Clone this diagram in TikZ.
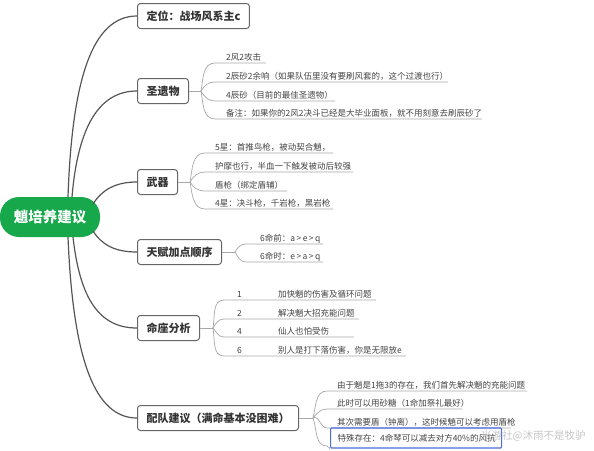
\documentclass[tikz,border=0pt]{standalone}
\usepackage{fontspec}
\setmainfont{Noto Sans CJK SC}
\definecolor{rootgreen}{HTML}{17A84B}
\definecolor{mainline}{HTML}{555555}
\definecolor{boxline}{HTML}{666666}
\definecolor{boxtext}{HTML}{333333}
\definecolor{leafline}{HTML}{A8A8A8}
\definecolor{leaftext}{HTML}{444444}
\definecolor{hlblue}{HTML}{4A6CE0}
\tikzset{
  rootbox/.style={fill=rootgreen, rounded corners=19pt, text=white, font=\bfseries\fontsize{14.5}{18}\selectfont, minimum width=100pt, minimum height=40pt, inner sep=0pt},
  branchbox/.style={draw=boxline, line width=1pt, rounded corners=3pt, fill=white, text=boxtext, font=\bfseries\fontsize{11}{13}\selectfont, minimum height=25pt, inner xsep=9pt, anchor=west},
  leaf/.style={anchor=base west, text=leaftext, font=\fontsize{8.5}{10}\selectfont, inner sep=0pt},
  mainconn/.style={draw=mainline, line width=1.2pt},
  leafconn/.style={draw=leafline, line width=0.7pt},
  wm/.style={anchor=base west, text=black!28, font=\fontsize{10.5}{12}\selectfont, inner sep=0pt, opacity=0.8}
}
\begin{document}
\begin{tikzpicture}[x=1pt,y=-1pt]
\useasboundingbox (0,0) rectangle (594,450);
\fill[white] (0,0) rectangle (594,450);

% root
\node[rootbox] (root) at (50,217) {魈培养建议};

% branch boxes
\node[branchbox] (b1) at (137,16) {定位：战场风系主c};
\node[branchbox] (b2) at (137,91) {圣遗物};
\node[branchbox] (b3) at (137,182) {武器};
\node[branchbox] (b4) at (137,252) {天赋加点顺序};
\node[branchbox] (b5) at (137,328) {命座分析};
\node[branchbox] (b6) at (137,418) {配队建议（满命基本没困难）};

% root connection points
\coordinate (r1) at (68,197);
\coordinate (r2) at (72,197);
\coordinate (r3) at (93,204);
\coordinate (r4) at (93,231);
\coordinate (r5) at (73,237);
\coordinate (r6) at (68,237);

\path[mainconn] (r1) .. controls (72,80) and (92,16) .. (b1.west);
\path[mainconn] (r2) .. controls (78,125) and (100,91) .. (b2.west);
\path[mainconn] (r3) .. controls (102,190) and (115,182) .. (b3.west);
\path[mainconn] (r4) .. controls (102,245) and (115,252) .. (b4.west);
\path[mainconn] (r5) .. controls (80,300) and (100,328) .. (b5.west);
\path[mainconn] (r6) .. controls (73,360) and (95,418) .. (b6.west);

% ---- 圣遗物 leaves
\coordinate (f2) at (201,91);
\path[leafconn] (b2.east) -- (f2);
\node[leaf] (s1) at (226,60) {2风2攻击};
\node[leaf] (s2) at (226,79) {2辰砂2余响（如果队伍里没有要刷风套的，这个过渡也行）};
\node[leaf] (s3) at (226,98) {4辰砂（目前的最佳圣遗物）};
\node[leaf] (s4) at (226,116) {备注：如果你的2风2决斗已经是大毕业面板，就不用刻意去刷辰砂了};
\coordinate (s1a) at (215,63); \coordinate (s1b) at (266,63);
\coordinate (s2a) at (215,82); \coordinate (s2b) at (448,82);
\coordinate (s3a) at (215,101); \coordinate (s3b) at (335,101);
\coordinate (s4a) at (215,119); \coordinate (s4b) at (482,119);
\path[leafconn] (f2) to[out=80,in=180] (s1a) -- (s1b);
\path[leafconn] (f2) to[out=60,in=180] (s2a) -- (s2b);
\path[leafconn] (f2) to[out=-60,in=180] (s3a) -- (s3b);
\path[leafconn] (f2) to[out=-80,in=180] (s4a) -- (s4b);

% ---- 武器 leaves
\coordinate (f3) at (190,182);
\path[leafconn] (b3.east) -- (f3);
\node[leaf] (w1) at (215,150) {5星：首推鸟枪，被动契合魈，};
\node[leaf] (w2) at (215,169) {护摩也行，半血一下触发被动后较强};
\node[leaf] (w3) at (215,188) {盾枪（绑定盾辅）};
\node[leaf] (w4) at (215,206) {4星：决斗枪，千岩枪，黑岩枪};
\coordinate (w1a) at (205,153); \coordinate (w1b) at (333,153);
\coordinate (w2a) at (205,172); \coordinate (w2b) at (353,172);
\coordinate (w3a) at (205,191); \coordinate (w3b) at (287,191);
\coordinate (w4a) at (205,209); \coordinate (w4b) at (333,209);
\path[leafconn] (f3) to[out=80,in=180] (w1a) -- (w1b);
\path[leafconn] (f3) to[out=60,in=180] (w2a) -- (w2b);
\path[leafconn] (f3) to[out=-60,in=180] (w3a) -- (w3b);
\path[leafconn] (f3) to[out=-80,in=180] (w4a) -- (w4b);

% ---- 天赋 leaves
\coordinate (f4) at (235,252);
\path[leafconn] (b4.east) -- (f4);
\node[leaf] (t1) at (260,241) {6命前：a\,>\,e\,>\,q};
\node[leaf] (t2) at (260,259) {6命时：e\,>\,a\,>\,q};
\coordinate (t1a) at (246,244); \coordinate (t1b) at (323,244);
\coordinate (t2a) at (246,262); \coordinate (t2b) at (323,262);
\path[leafconn] (f4) to[out=60,in=180] (t1a) -- (t1b);
\path[leafconn] (f4) to[out=-60,in=180] (t2a) -- (t2b);

% ---- 命座 leaves
\coordinate (f5) at (213,328);
\path[leafconn] (b5.east) -- (f5);
\node[leaf] (c1n) at (237,297) {1};
\node[leaf] (c2n) at (237,316) {2};
\node[leaf] (c3n) at (237,334) {4};
\node[leaf] (c4n) at (237,353) {6};
\node[leaf] (c1) at (278,297) {加快魈的伤害及循环问题};
\node[leaf] (c2) at (278,316) {解决魈大招充能问题};
\node[leaf] (c3) at (278,334) {仙人也怕受伤};
\node[leaf] (c4) at (278,353) {别人是打下落伤害，你是无限放e};
\coordinate (c1a) at (224,300); \coordinate (c1b) at (376,300);
\coordinate (c2a) at (224,319); \coordinate (c2b) at (359,319);
\coordinate (c3a) at (224,337); \coordinate (c3b) at (354,337);
\coordinate (c4a) at (224,356); \coordinate (c4b) at (406,356);
\path[leafconn] (f5) to[out=80,in=180] (c1a) -- (c1b);
\path[leafconn] (f5) to[out=60,in=180] (c2a) -- (c2b);
\path[leafconn] (f5) to[out=-50,in=180] (c3a) -- (c3b);
\path[leafconn] (f5) to[out=-80,in=180] (c4a) -- (c4b);

% ---- 配队 leaves
\coordinate (f6) at (313,418);
\path[leafconn] (b6.east) -- (f6);
\node[leaf] (p1) at (337,388) {由于魈是1拖3的存在，我们首先解决魈的充能问题};
\node[leaf] (p2) at (337,406) {此时可以用砂糖（1命加祭礼最好）};
\node[leaf] (p3) at (337,425) {其次需要盾（钟离），这时候魈可以考虑用盾枪};
\coordinate (p1a) at (327,391); \coordinate (p1b) at (527,391);
\coordinate (p2a) at (327,409); \coordinate (p2b) at (462,409);
\coordinate (p3a) at (327,428); \coordinate (p3b) at (511,428);
\path[leafconn] (f6) to[out=75,in=180] (p1a) -- (p1b);
\path[leafconn] (f6) to[out=50,in=180] (p2a) -- (p2b);
\path[leafconn] (f6) to[out=30,in=180] (p3a) -- (p3b);
\node[anchor=west, draw=hlblue, line width=1.1pt, rounded corners=1pt, minimum width=171pt, minimum height=20pt, inner xsep=7pt, text=leaftext, font=\fontsize{8.5}{10}\selectfont, align=left, text width=157pt] (p4) at (330,438) {特殊存在：4命琴可以减去对方40\%的风抗};
\coordinate (p4a) at (327,446);
\path[leafconn] (f6) to[out=-70,in=180] (p4a) -- (p4.south west);

% watermark
\node[wm] (wmk) at (481,439) {米游社@沐雨不是牧驴};
\end{tikzpicture}
\end{document}
